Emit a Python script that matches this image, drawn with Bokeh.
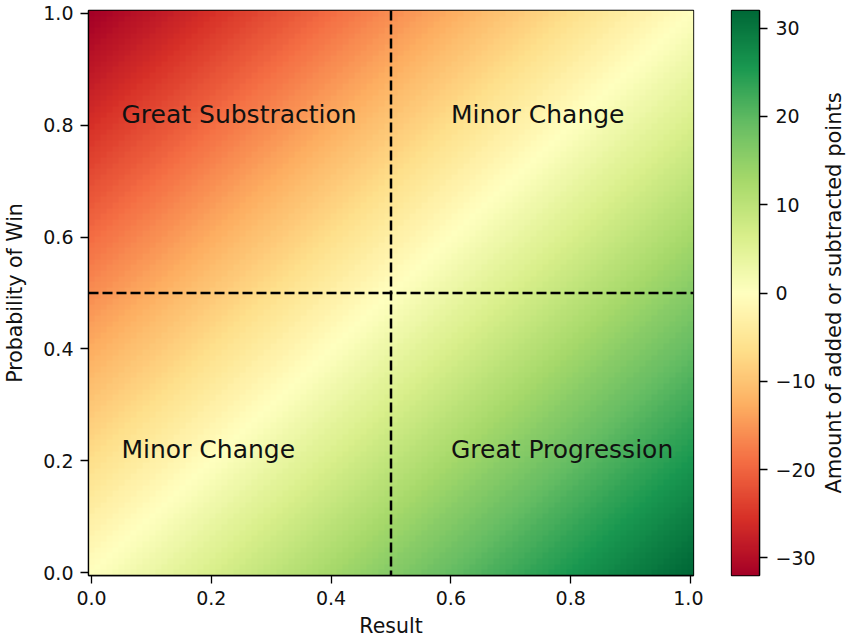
import math
import numpy as np
from bokeh.plotting import figure
from bokeh.layouts import row
from bokeh.models import LinearColorMapper, Span, ColumnDataSource, FixedTicker
from bokeh.core.properties import value
from bokeh.embed import file_html
from bokeh.resources import INLINE

# ---- data ----
K = 32  # Elo K-factor: points = K * (result - probability)
results = np.linspace(0.0, 1.0, 100)        # x: game result
probabilities = np.linspace(0.0, 1.0, 100)  # y: probability of win
label_x = [0.05, 0.6, 0.05, 0.6]
label_y = [0.8, 0.8, 0.2, 0.2]
label_text = ["Great Substraction", "Minor Change", "Minor Change", "Great Progression"]
split_result = 0.5
split_probability = 0.5
x_ticks = [0.0, 0.2, 0.4, 0.6, 0.8, 1.0]
y_ticks = [0.0, 0.2, 0.4, 0.6, 0.8, 1.0]
cbar_ticks = [-30, -20, -10, 0, 10, 20, 30]
cbar_title = ["Amount of added or subtracted points"]

points = K * (results[None, :] - probabilities[:, None])

# ---- colormap (RdYlGn, low = red, high = green) ----
brewer = ['#a50026', '#d73027', '#f46d43', '#fdae61', '#fee08b', '#ffffbf',
          '#d9ef8b', '#a6d96a', '#66bd63', '#1a9850', '#006837']
rgb = np.array([[int(c[i:i + 2], 16) for i in (1, 3, 5)] for c in brewer], dtype=float)
pos = np.linspace(0, 1, len(brewer))
t = np.linspace(0, 1, 256)
pal = []
for tt in t:
    r = np.interp(tt, pos, rgb[:, 0]); g = np.interp(tt, pos, rgb[:, 1]); b = np.interp(tt, pos, rgb[:, 2])
    pal.append("#%02x%02x%02x" % (int(round(r)), int(round(g)), int(round(b))))
mapper = LinearColorMapper(palette=pal, low=-K, high=K)

FONT = "DejaVu Sans"
TXT = "#111111"
TOP = 10
BOTTOM = 67
H = 642

half = (results[1] - results[0]) / 2
xr = (results[0] - half, results[-1] + half)
yr = (probabilities[0] - half, probabilities[-1] + half)

p = figure(width=703, height=H, x_range=xr, y_range=yr,
           output_backend="svg", toolbar_location=None,
           min_border_left=88, min_border_right=10, min_border_top=TOP, min_border_bottom=BOTTOM)
p.image(image=[points], x=xr[0], y=yr[0], dw=xr[1] - xr[0], dh=yr[1] - yr[0], color_mapper=mapper)

p.add_layout(Span(location=split_result, dimension="height", line_color="black",
                  line_width=2.5, line_dash="10 4"))
p.add_layout(Span(location=split_probability, dimension="width", line_color="black",
                  line_width=2.5, line_dash="10 4"))

src = ColumnDataSource(dict(x=label_x, y=label_y, t=label_text))
p.text(x="x", y="y", text="t", source=src, text_font=value(FONT), text_font_size="25px",
       text_align="left", text_baseline="middle", y_offset=-11, text_color=TXT)

p.grid.visible = False
p.outline_line_color = "black"
p.outline_line_width = 1.3
for ax, ticks in ((p.xaxis[0], x_ticks), (p.yaxis[0], y_ticks)):
    ax.ticker = FixedTicker(ticks=ticks)
    ax.major_label_overrides = {v: "%.1f" % v for v in ticks}
    ax.minor_tick_line_color = None
    ax.major_tick_in = 0
    ax.major_tick_out = 8
    ax.major_tick_line_color = "black"
    ax.major_tick_line_width = 1.3
    ax.axis_line_color = "black"
    ax.axis_line_width = 1.3
    ax.major_label_text_font = FONT
    ax.major_label_text_font_size = "19px"
    ax.major_label_text_color = TXT
    ax.major_label_standoff = 7
    ax.axis_label_text_font = FONT
    ax.axis_label_text_font_size = "20.5px"
    ax.axis_label_text_font_style = "normal"
    ax.axis_label_text_color = TXT
p.xaxis.axis_label = "Result"
p.yaxis.axis_label = "Probability of Win"
p.xaxis.axis_label_standoff = 6
p.yaxis.axis_label_standoff = 13
p.background_fill_color = "white"
p.border_fill_color = "white"

# ---- colorbar figure ----
cb_vals = np.linspace(-K, K, 256)
c = figure(width=116, height=H, x_range=(0, 1), y_range=(-K, K),
           output_backend="svg", toolbar_location=None,
           x_axis_location=None, y_axis_location="right",
           min_border_left=28, min_border_right=60, min_border_top=TOP, min_border_bottom=BOTTOM)
c.image(image=[cb_vals[:, None]], x=0, y=-K, dw=1, dh=2 * K, color_mapper=mapper)
c.grid.visible = False
c.outline_line_color = "black"
c.outline_line_width = 1.3
ay = c.yaxis[0]
ay.ticker = FixedTicker(ticks=cbar_ticks)
ay.major_label_overrides = {v: str(v).replace("-", "\u2212") for v in cbar_ticks}
ay.minor_tick_line_color = None
ay.major_tick_in = 0
ay.major_tick_out = 8
ay.major_tick_line_width = 1.3
ay.axis_line_color = "black"
ay.axis_line_width = 1.3
ay.major_label_text_font = FONT
ay.major_label_text_font_size = "19px"
ay.major_label_text_color = TXT
ay.major_label_standoff = 8
c.border_fill_color = "white"

# ---- colorbar title (rotated, reads bottom to top) ----
lab = figure(width=29, height=H, x_range=(0, 1), y_range=(-K, K),
             output_backend="svg", toolbar_location=None,
             x_axis_location=None, y_axis_location=None,
             min_border_left=0, min_border_right=0, min_border_top=TOP, min_border_bottom=BOTTOM)
lab.grid.visible = False
lab.outline_line_color = None
lab.border_fill_color = "white"
lab.background_fill_color = "white"
lab.text(x=[0.5], y=[0], text=cbar_title, angle=math.pi / 2, text_align="center",
         text_baseline="middle", text_font=value(FONT), text_font_size="21px", text_color=TXT)

layout = row(p, c, lab)
open("out.html", "w").write(file_html(layout, INLINE))
